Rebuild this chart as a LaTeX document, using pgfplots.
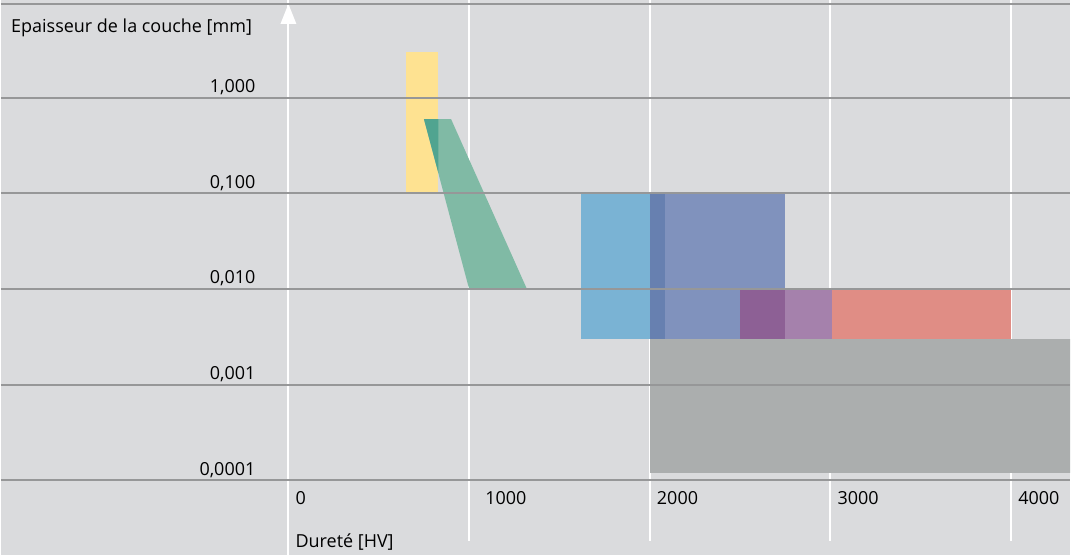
\documentclass[border=0pt]{standalone}
\usepackage{fontspec}
\setmainfont{Open Sans}
\usepackage{pgfplots}
\pgfplotsset{compat=1.18}
\definecolor{bg}{RGB}{218,219,221}
\definecolor{gridc}{RGB}{150,151,152}
\definecolor{yel}{RGB}{254,226,145}
\definecolor{grn}{RGB}{128,186,165}
\definecolor{grnd}{RGB}{80,164,144}
\definecolor{blu}{RGB}{122,179,212}
\definecolor{blud}{RGB}{103,128,176}
\definecolor{slt}{RGB}{128,146,189}
\definecolor{purd}{RGB}{141,96,149}
\definecolor{pur}{RGB}{165,129,172}
\definecolor{sal}{RGB}{224,141,133}
\definecolor{gry}{RGB}{171,174,174}
\newcommand{\lblfont}{\fontsize{18}{21}\selectfont}
\begin{document}
\begin{tikzpicture}[font=\lblfont]
\begin{axis}[
  scale only axis, width=1071pt, height=556pt,
  xmin=-1591, xmax=4326,
  ymode=log, ymin=1.648e-5, ymax=10.56,
  axis background/.style={fill=bg},
  axis line style={draw=none},
  axis on top,
  clip=true,
  major tick length=0pt,
  minor tick length=0pt,
  tick style={draw=none},
  xtick={0,1000,2000,3000,4000},
  xticklabels={0,\hspace{9pt}1000,2000,3000,4000},
  xticklabel style={anchor=base west, inner sep=0pt, xshift=7pt, yshift=51pt, font=\lblfont},
  ytick={0.0001,0.001,0.01,0.1,1},
  yticklabels={{0,0001},{0,001},{0,010},{0,100},{1,000}},
  yticklabel style={anchor=base east, inner sep=0pt, xshift=255pt, yshift=5pt, font=\lblfont},
  ymajorgrids,
  major grid style={draw=gridc, line width=2pt},
]
% vertical white lines (behind shapes)
\draw[white, line width=2pt] (axis cs:0,10.56) -- (axis cs:0,1.648e-5);
\pgfplotsinvokeforeach{1000,2000,3000,4000}{
  \draw[white, line width=2pt] (axis cs:#1,10.56) -- (axis cs:#1,2.31e-5);
}
\fill[white] ([xshift=-8pt]axis cs:0,5.93) -- ([xshift=8pt]axis cs:0,5.93) -- (axis cs:0,9.59) -- cycle;

% shapes
\addplot[fill=yel, draw=none] coordinates {(650,0.1) (830,0.1) (830,3) (650,3)} -- cycle;
\addplot[fill=grn, draw=none] coordinates {(750,0.6) (900,0.6) (1320,0.01) (1000,0.01)} -- cycle;
\addplot[fill=grnd, draw=none] coordinates {(750,0.6) (830,0.6) (830,0.164)} -- cycle;

\addplot[fill=blu, draw=none] coordinates {(1620,0.003) (2085,0.003) (2085,0.1) (1620,0.1)} -- cycle;
\addplot[fill=slt, draw=none] coordinates {(2000,0.003) (2750,0.003) (2750,0.1) (2000,0.1)} -- cycle;
\addplot[fill=blud, draw=none] coordinates {(2000,0.003) (2085,0.003) (2085,0.1) (2000,0.1)} -- cycle;

\addplot[fill=pur, draw=none] coordinates {(2500,0.003) (3010,0.003) (3010,0.01) (2500,0.01)} -- cycle;
\addplot[fill=purd, draw=none] coordinates {(2500,0.003) (2750,0.003) (2750,0.01) (2500,0.01)} -- cycle;
\addplot[fill=sal, draw=none] coordinates {(3010,0.003) (4000,0.003) (4000,0.01) (3010,0.01)} -- cycle;

\addplot[fill=gry, draw=none] coordinates {(2000,0.00012) (4500,0.00012) (4500,0.003) (2000,0.003)} -- cycle;

% top border line
\draw[gridc, line width=2pt] (rel axis cs:0,0.9919) -- (rel axis cs:1,0.9919);

% axis titles
\node[anchor=base west, inner sep=0pt] at (rel axis cs:0.00934,0.9419) {Epaisseur de la couche [mm]};
\node[anchor=base west, inner sep=0pt] at (rel axis cs:0.2754,0.01259) {Dureté [HV]};
\end{axis}
\end{tikzpicture}
\end{document}
